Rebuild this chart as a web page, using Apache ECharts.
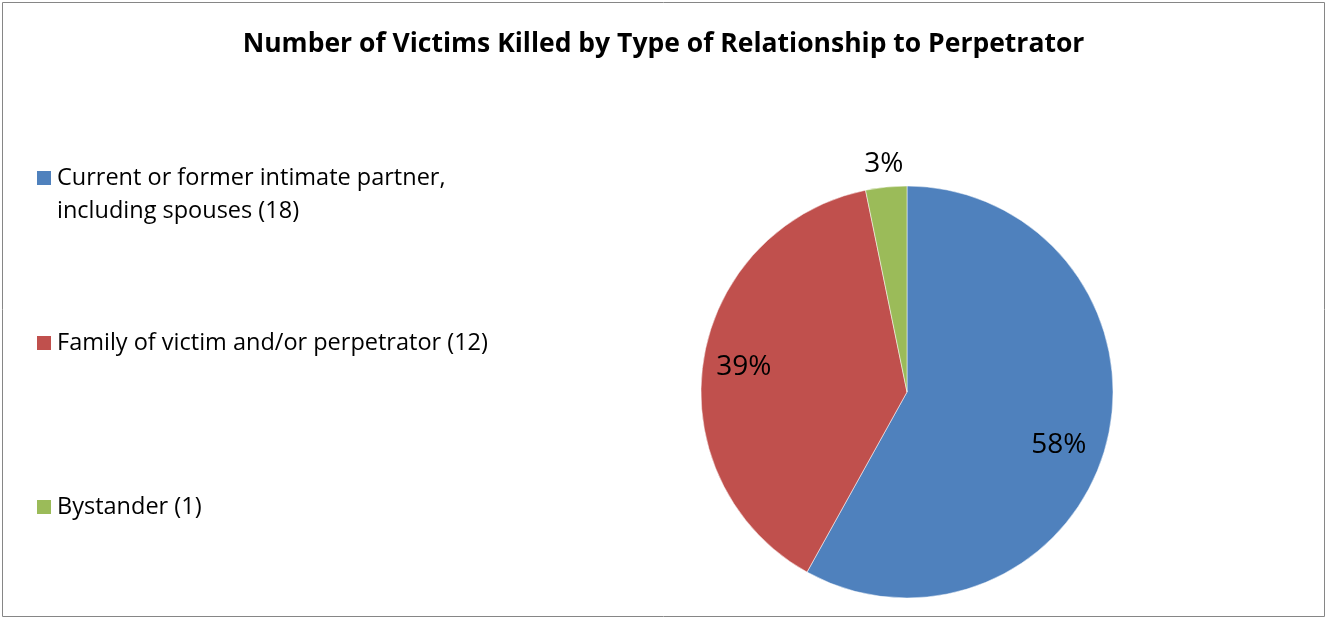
<!DOCTYPE html>
<html>
<head>
<meta charset="utf-8">
<script src="https://cdn.jsdelivr.net/npm/echarts@6/dist/echarts.min.js"></script>
<style>
  html, body { margin: 0; padding: 0; background: #fff; }
  #chart { width: 1327px; height: 619px; }
</style>
</head>
<body>
<div id="chart"></div>
<script>
  // data
  const categories = [
    'Current or former intimate partner,\nincluding spouses',
    'Family of victim and/or perpetrator',
    'Bystander'
  ];
  const counts = [18, 12, 1];
  const colors = ['#4F81BD', '#C0504D', '#9BBB59'];

  const FONT = 'Open Sans';
  const center = [907, 392];
  const pieData = categories.map((name, i) => ({ name: name, value: counts[i] }));

  // legends: one per entry so the gaps can follow the picture
  const legendTops = [128.5, 326.5, 490.5];
  const legends = categories.map((name, i) => ({
    data: [name],
    orient: 'vertical',
    left: 35,
    top: legendTops[i],
    padding: 0,
    icon: 'rect',
    itemWidth: 16,
    itemHeight: 16,
    selectedMode: false,
    // an empty first line keeps the box level with the first text line
    formatter: n => (n.indexOf('\n') >= 0 ? '\n' : '') + n + ' (' + counts[categories.indexOf(n)] + ')',
    textStyle: {
      fontFamily: FONT,
      fontSize: 23.5,
      lineHeight: 33,
      color: '#000'
    }
  }));

  // transparent copies of the pie, used only to place the percent labels
  function labelPie (radius, showIdx, nudge) {
    return {
      type: 'pie',
      silent: true,
      center: center,
      radius: radius,
      startAngle: 90,
      percentPrecision: 0,
      avoidLabelOverlap: false,
      legendHoverLink: false,
      emphasis: { disabled: true },
      itemStyle: { color: 'rgba(0,0,0,0)' },
      labelLine: { show: false },
      labelLayout: nudge ? (p => nudge[p.dataIndex] || {}) : undefined,
      data: pieData.map((d, i) => ({
        name: d.name,
        value: d.value,
        label: { show: showIdx.indexOf(i) >= 0 }
      })),
      label: {
        position: 'inside',
        formatter: '{d}%',
        fontFamily: FONT,
        fontSize: 28,
        color: '#000'
      },
      z: 3
    };
  }

  const chart = echarts.init(document.getElementById('chart'));
  chart.setOption({
    animation: false,
    color: colors,
    title: {
      text: 'Number of Victims Killed by Type of Relationship to Perpetrator',
      left: 'center',
      top: 29,
      padding: 0,
      textStyle: {
        fontFamily: FONT,
        fontSize: 26.5,
        fontWeight: 'bold',
        lineHeight: 30,
        color: '#000'
      }
    },
    legend: legends,
    graphic: [{
      type: 'rect',
      shape: { x: 2.5, y: 2.5, width: 1322, height: 614 },
      style: { fill: 'none', stroke: '#868686', lineWidth: 1 },
      silent: true
    }],
    series: [
      {
        type: 'pie',
        center: center,
        radius: 206,
        startAngle: 90,
        label: { show: false },
        labelLine: { show: false },
        emphasis: { disabled: true },
        itemStyle: { borderColor: '#fff', borderWidth: 0.5 },
        data: pieData
      },
      labelPie(324, [0, 1], { 0: { dx: -8, dy: 12 } }),
      labelPie(452, [2])
    ]
  });
</script>
</body>
</html>
